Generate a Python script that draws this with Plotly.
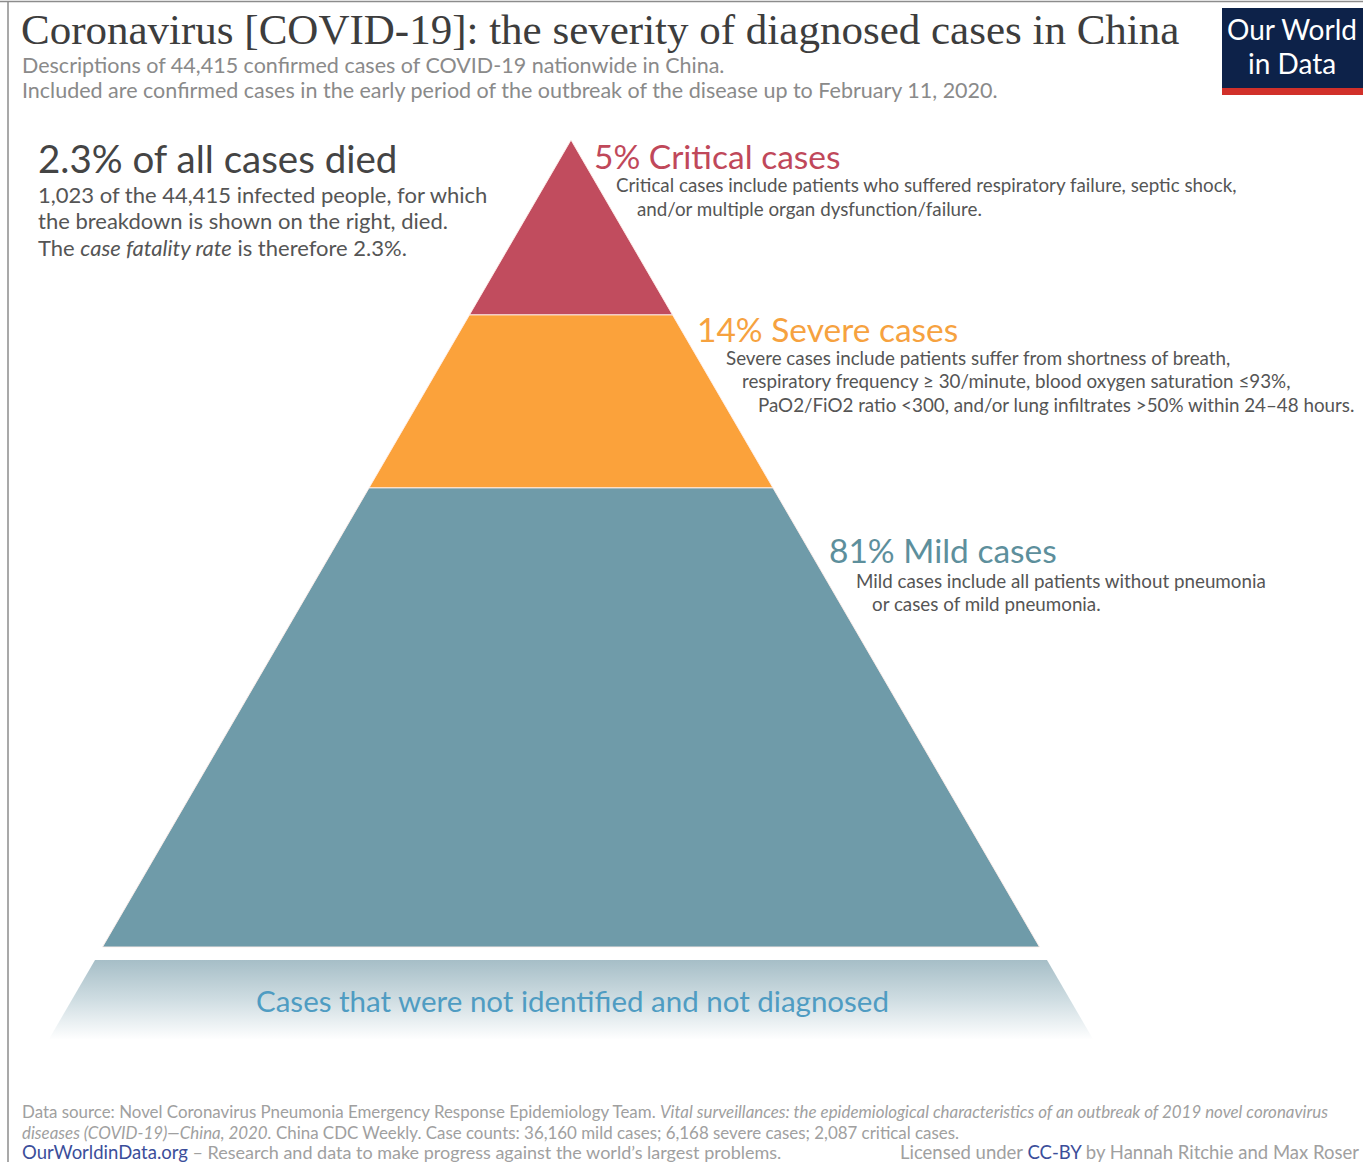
import numpy as np
import plotly.graph_objects as go

W, H = 1363, 1162

# ---- data ----
categories = ["Critical", "Severe", "Mild"]
case_counts = [2087, 6168, 36160]
percent_labels = ["5% Critical cases", "14% Severe cases", "81% Mild cases"]
colors = ["#c14c5e", "#fba23b", "#6f9ba9"]
label_colors = ["#c0485a", "#f6a23f", "#5d8f9c"]
descriptions = [
    ["Critical cases include patients who suffered respiratory failure, septic shock,",
     "and/or multiple organ dysfunction/failure."],
    ["Severe cases include patients suffer from shortness of breath,",
     "respiratory frequency \u2265 30/minute, blood oxygen saturation \u226493%,",
     "PaO2/FiO2 ratio <300, and/or lung infiltrates >50% within 24\u201348 hours."],
    ["Mild cases include all patients without pneumonia",
     "or cases of mild pneumonia."],
]
deaths = 1023
total_cases = sum(case_counts)

# pyramid: area proportional to cases; depth measured from apex (0) to base (1)
cum = np.cumsum(case_counts) / total_cases
depths = np.sqrt(cum)
tops = np.concatenate([[0.0], depths[:-1]])

# layout mapping: apex at pixel (571,140), base at y=947, base half width ~468 px
APX, APY, BASEY, HALF = 571.0, 140.0, 947.0, 468.5
yscale = BASEY - APY
xr = [-APX / HALF, (W - APX) / HALF]
yr = [(H - APY) / yscale, -APY / yscale]

fig = go.Figure()

for i, cat in enumerate(categories):
    t, b = tops[i], depths[i]
    xs = [-t, t, b, -b, -t]
    ys = [t, t, b, b, t]
    fig.add_trace(go.Scatter(x=xs, y=ys, fill="toself", fillcolor=colors[i],
                             mode="lines", line=dict(color="rgba(255,240,235,0.9)", width=1),
                             hoverinfo="skip", showlegend=False, name=cat))

# undiagnosed (continuation of pyramid, fading out)
u_top, u_bot = 1.016, 1.115
fig.add_trace(go.Scatter(
    x=[-u_top, u_top, u_bot, -u_bot, -u_top], y=[u_top, u_top, u_bot, u_bot, u_top],
    fill="toself", mode="lines", line=dict(width=0, color="rgba(0,0,0,0)"),
    fillgradient=dict(type="vertical",
                      colorscale=[[0, "#a6bec7"], [0.5, "#cfdde2"], [1, "#ffffff"]],
                      start=u_top, stop=u_bot),
    hoverinfo="skip", showlegend=False))

def px(x):
    return x / W

def py(y):
    return 1 - y / H

ann = []

def text(x, y, s, size, color, family="Lato", xanchor="left"):
    ann.append(dict(x=px(x), y=py(y), xref="paper", yref="paper", text=s, showarrow=False,
                    xanchor=xanchor, yanchor="middle", align="left",
                    font=dict(size=size, color=color, family=family)))

# title & subtitle
text(19, 29, "Coronavirus [COVID-19]: the severity of diagnosed cases in China", 43,
     "#3d3d3d", family="Liberation Serif")
text(20, 65, f"Descriptions of {total_cases:,} confirmed cases of COVID-19 nationwide in China.",
     21.5, "#8a8a8a")
text(20, 90, "Included are confirmed cases in the early period of the outbreak of the disease up to February 11, 2020.",
     21.5, "#8a8a8a")

# logo
text(1292, 29, "Our World", 28, "#ffffff", xanchor="center")
text(1292, 63, "in Data", 28, "#ffffff", xanchor="center")

# left block
cfr = deaths / total_cases * 100
text(36, 158, f"{cfr:.1f}% of all cases died", 38.5, "#444444")
text(36, 194, f"{deaths:,} of the {total_cases:,} infected people, for which", 22, "#555555")
text(36, 220, "the breakdown is shown on the right, died.", 22, "#555555")
text(36, 247, f"The <i>case fatality rate</i> is therefore {cfr:.1f}%.", 22, "#555555")

# category labels
title_pos = [(592, 156), (695, 329), (827, 550)]
line_pos = [[(614, 185), (635, 209)],
            [(724, 357), (740, 381), (756, 404)],
            [(854, 580), (870, 603)]]
for i in range(3):
    text(title_pos[i][0], title_pos[i][1], percent_labels[i], 33.5, label_colors[i])
    for (lx, ly), s in zip(line_pos[i], descriptions[i]):
        text(lx, ly, s, 18.8, "#555555")

text(572, 1000, "Cases that were not identified and not diagnosed", 29.5, "#4f9cc2", xanchor="center")

# footer
text(20, 1111, "Data source: Novel Coronavirus Pneumonia Emergency Response Epidemiology Team. "
     "<i>Vital surveillances: the epidemiological characteristics of an outbreak of 2019 novel coronavirus</i>",
     16.9, "#a0a0a0")
text(20, 1132, "<i>diseases (COVID-19)\u2014China, 2020.</i> China CDC Weekly. Case counts: "
     f"{case_counts[2]:,} mild cases; {case_counts[1]:,} severe cases; {case_counts[0]:,} critical cases.",
     16.9, "#a0a0a0")
text(20, 1152, "<span style='color:#3b4e9a;font-size:18.5px'>OurWorldinData.org</span> \u2013 Research and data to make progress against the world\u2019s largest problems.",
     18, "#a0a0a0")
text(1361, 1152, "Licensed under <span style='color:#3b4e9a'>CC-BY</span> by Hannah Ritchie and Max Roser",
     18.5, "#a0a0a0", xanchor="right")

shapes = [
    dict(type="rect", xref="paper", yref="paper", x0=px(1222), x1=px(1363), y0=py(8), y1=py(88),
         fillcolor="#0d2249", line=dict(width=0), layer="below"),
    dict(type="rect", xref="paper", yref="paper", x0=px(1222), x1=px(1363), y0=py(88), y1=py(95),
         fillcolor="#d1302a", line=dict(width=0), layer="below"),
    dict(type="line", xref="paper", yref="paper", x0=px(8), x1=px(8), y0=py(2), y1=py(H),
         line=dict(color="#8c8c8c", width=1.5)),
    dict(type="line", xref="paper", yref="paper", x0=px(0), x1=px(W), y0=py(1.5), y1=py(1.5),
         line=dict(color="#8c8c8c", width=1.5)),
]

fig.update_layout(
    width=W, height=H, margin=dict(l=0, r=0, t=0, b=0),
    paper_bgcolor="white", plot_bgcolor="white",
    xaxis=dict(range=xr, visible=False, domain=[0, 1], fixedrange=True),
    yaxis=dict(range=yr, visible=False, domain=[0, 1], fixedrange=True),
    annotations=ann, shapes=shapes, showlegend=False,
)

fig.write_html("out.html")
